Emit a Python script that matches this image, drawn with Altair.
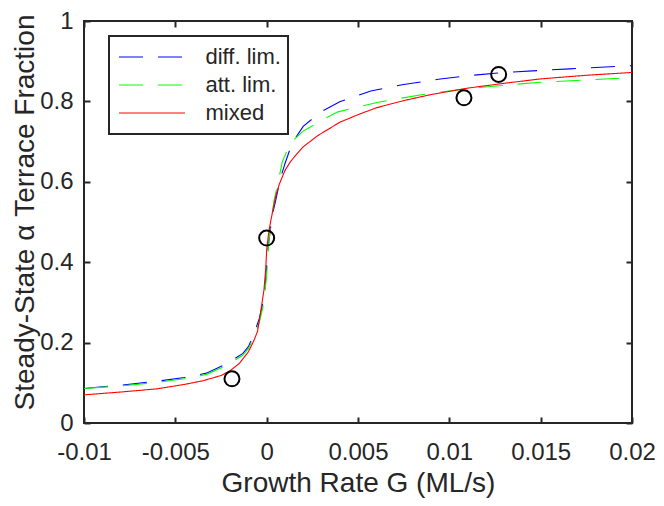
import altair as alt
import pandas as pd

# ---- data ----
series_names = ["diff. lim.", "att. lim.", "mixed"]
series_colors = ["#0000ff", "#00ff00", "#ff0000"]

x_diff = [-0.01, -0.008, -0.006, -0.0045, -0.0033, -0.0022, -0.0013, -0.001, -0.0007,
          -0.0004, -0.0002, -0.0001, 0.0, 0.0001, 0.0003, 0.0005, 0.00075, 0.001, 0.0014,
          0.002, 0.003, 0.004, 0.0057, 0.0075, 0.0094, 0.011, 0.013, 0.0166, 0.02]
y_diff = [0.086, 0.094, 0.104, 0.113, 0.124, 0.147, 0.173, 0.19, 0.221,
          0.26, 0.30, 0.33, 0.39, 0.445, 0.516, 0.555, 0.608, 0.645, 0.697,
          0.738, 0.775, 0.799, 0.826, 0.842, 0.855, 0.864, 0.872, 0.881, 0.889]

x_att = [-0.01, -0.008, -0.006, -0.0045, -0.0033, -0.0022, -0.0013, -0.001, -0.0007,
         -0.0004, -0.0002, -0.0001, 0.0, 0.0001, 0.0002, 0.0004, 0.00065, 0.00085, 0.0013,
         0.002, 0.0032, 0.0039, 0.0061, 0.0084, 0.0112, 0.0148, 0.02]
y_att = [0.086, 0.092, 0.101, 0.110, 0.121, 0.143, 0.169, 0.185, 0.213,
         0.25, 0.29, 0.32, 0.37, 0.44, 0.49, 0.552, 0.604, 0.649, 0.697,
         0.726, 0.758, 0.774, 0.798, 0.816, 0.833, 0.847, 0.859]

x_mixed = [-0.01, -0.008, -0.006, -0.0045, -0.0035, -0.0025, -0.002, -0.0015, -0.001,
           -0.0007, -0.0005, -0.0003, -0.00015, -0.00005, 0.0, 0.0001, 0.0002, 0.0003,
           0.0005, 0.0007, 0.001, 0.0013, 0.0017, 0.002, 0.0028, 0.004, 0.005, 0.006,
           0.0075, 0.009, 0.011, 0.013, 0.015, 0.0175, 0.02]
y_mixed = [0.070, 0.077, 0.085, 0.096, 0.105, 0.118, 0.130, 0.148, 0.177,
           0.205, 0.228, 0.285, 0.33, 0.385, 0.43, 0.47, 0.497, 0.52,
           0.565, 0.595, 0.628, 0.65, 0.672, 0.687, 0.715, 0.748, 0.767, 0.784,
           0.802, 0.817, 0.833, 0.845, 0.856, 0.865, 0.872]

x_meas = [-0.0019, 0.0, 0.0108, 0.0127]
y_meas = [0.11, 0.46, 0.809, 0.867]

x_ticks = [-0.01, -0.005, 0, 0.005, 0.01, 0.015, 0.02]
y_ticks = [0, 0.2, 0.4, 0.6, 0.8, 1]

rows = []
for name, xs, ys in [("diff. lim.", x_diff, y_diff), ("att. lim.", x_att, y_att),
                     ("mixed", x_mixed, y_mixed)]:
    for a, b in zip(xs, ys):
        rows.append({"G": a, "F": b, "series": name})
df_lines = pd.DataFrame(rows)
df_pts = pd.DataFrame({"G": x_meas, "F": y_meas})

W, H = 548, 402
ink = "#262626"
label_expr = "replace(format(datum.value, '~g'), '\u2212', '-')"

xscale = alt.Scale(domain=[-0.01, 0.02], nice=False, zero=False)
yscale = alt.Scale(domain=[0, 1], nice=False, zero=False)

tick_common = dict(values=x_ticks, labels=False, domain=False, grid=False, title=None,
                   ticks=True, tickSize=6, tickWidth=2, tickColor=ink)
ytick_common = dict(tick_common, values=y_ticks)

ax_x_main = alt.Axis(orient="bottom", values=x_ticks, ticks=False, tickSize=0, domain=False,
                     grid=False, labelExpr=label_expr, labelFontSize=24, labelColor=ink,
                     labelPadding=17, title="Growth Rate G (ML/s)", titleFontSize=28,
                     titleFontWeight="normal", titleColor=ink, titleBaseline="alphabetic",
                     titleY=68, labelFlush=False)
ax_y_main = alt.Axis(orient="left", values=y_ticks, ticks=False, tickSize=0, domain=False,
                     grid=False, labelExpr=label_expr, labelFontSize=24, labelColor=ink,
                     labelPadding=11, title="Steady-State α Terrace Fraction", titleFontSize=28,
                     titleFontWeight="normal", titleColor=ink, titleBaseline="alphabetic",
                     titleX=-51, titleY=191, titleAngle=270)

leg = alt.Legend(title=None, orient="none", legendX=25, legendY=15)

lines = alt.Chart(df_lines).mark_line(strokeWidth=1.1).encode(
    x=alt.X("G:Q", scale=xscale, axis=ax_x_main),
    y=alt.Y("F:Q", scale=yscale, axis=ax_y_main),
    color=alt.Color("series:N", scale=alt.Scale(domain=series_names, range=series_colors),
                    legend=leg),
    strokeDash=alt.StrokeDash("series:N",
                              scale=alt.Scale(domain=series_names,
                                              range=[[24, 15], [24, 15], [1, 0]]),
                              legend=leg),
)

pts = alt.Chart(df_pts).mark_point(shape="circle", filled=False, size=225, strokeWidth=2,
                                   color="black", opacity=1).encode(
    x=alt.X("G:Q", scale=xscale, axis=alt.Axis(orient="top", offset=-H, **tick_common)),
    y=alt.Y("F:Q", scale=yscale, axis=alt.Axis(orient="right", offset=-W, **ytick_common)),
)

ghost = alt.Chart(df_pts).mark_point(opacity=0).encode(
    x=alt.X("G:Q", scale=xscale, axis=alt.Axis(orient="bottom", offset=-H, **tick_common)),
    y=alt.Y("F:Q", scale=yscale, axis=alt.Axis(orient="left", offset=-W, **ytick_common)),
)

chart = alt.layer(lines, pts, ghost).resolve_axis(x="independent", y="independent").properties(
    width=W, height=H,
    autosize=alt.AutoSizeParams(type="none"),
    padding={"left": 76, "top": 13, "right": 24, "bottom": 75},
).configure(font="Liberation Sans").configure_view(
    stroke=ink, strokeWidth=2
).configure_legend(
    symbolType="M-3,0H3", symbolSize=484, symbolStrokeWidth=1, symbolOffset=24.5,
    labelOffset=42, labelFontSize=22, labelColor=ink, padding=7, rowPadding=0,
    clipHeight=28, strokeColor=ink, fillColor="white", strokeWidth=2,
)

chart.save("out.html", embed_options={"renderer": "svg", "actions": False})
